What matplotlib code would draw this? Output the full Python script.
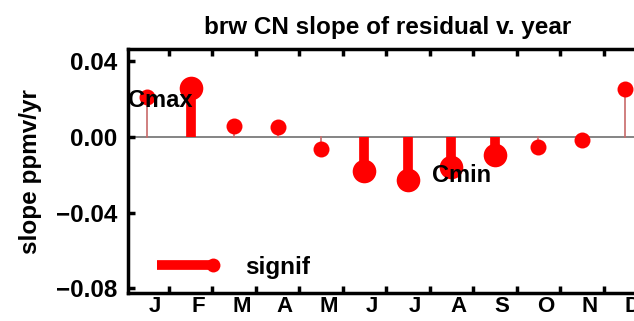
import numpy as np
import matplotlib.pyplot as plt

# monthly slope of residual v. year at brw (ppmv/yr)
months = np.arange(1, 13)
month_labels = ['J', 'F', 'M', 'A', 'M', 'J', 'J', 'A', 'S', 'O', 'N', 'D']
slope = [0.0213, 0.0260, 0.0058, 0.0051, -0.0065, -0.0178,
         -0.0228, -0.0157, -0.0095, -0.0051, -0.0016, 0.0253]
signif = [False, True, False, False, False, True,
          True, True, True, False, False, False]

plt.rcParams['font.family'] = ['Liberation Sans', 'DejaVu Sans']
plt.rcParams['font.weight'] = 'bold'
fs = 17.5

fig = plt.figure(figsize=(6.34, 3.21), dpi=100)
ax = fig.add_axes([128 / 634, 28 / 321, 519 / 634, 244 / 321])

red = '#ff0000'
ax.axhline(0, color='#707070', lw=1.2, zorder=1)
for m, s, sg in zip(months, slope, signif):
    if sg:
        ax.plot([m, m], [0, s], color=red, lw=7, solid_capstyle='butt', zorder=2)
        ax.plot(m, s, 'o', color=red, ms=17, mec='none', zorder=3)
    else:
        ax.plot([m, m], [0, s], color='#c86a6a', lw=1.2, zorder=2)
        ax.plot(m, s, 'o', color=red, ms=11.5, mec='none', zorder=3)

ax.text(0.57, 0.0196, 'Cmax', ha='left', va='center', fontsize=fs - 0.5,
        fontweight='bold', zorder=5)
ax.text(7.55, -0.0201, 'Cmin', ha='left', va='center', fontsize=fs - 0.5,
        fontweight='bold', zorder=5)

# legend entry for significant slopes
ax.plot([0.056, 0.164], [0.115, 0.115], transform=ax.transAxes, color=red,
        lw=7, solid_capstyle='butt', clip_on=False)
ax.plot([0.164], [0.115], 'o', transform=ax.transAxes, color=red, ms=10,
        mec='none', clip_on=False)
ax.text(0.225, 0.104, 'signif', transform=ax.transAxes, ha='left',
        va='center', fontsize=fs, fontweight='bold')

ax.set_xlim(0.56, 12.5)
ax.set_ylim(-0.0825, 0.0466)
ax.set_yticks([-0.08, -0.04, 0.0, 0.04])
ax.set_yticklabels(['\u22120.08', '\u22120.04', '0.00', '0.04'])
ax.set_xticks(np.arange(1.5, 12.5, 1))
ax.set_xticklabels([])
ax.set_xticks(months + 0.17, minor=True)
ax.set_xticklabels(month_labels, minor=True)
ax.tick_params(axis='x', which='major', direction='in', length=5, width=2.5,
               top=True, bottom=True)
ax.tick_params(axis='x', which='minor', length=0, pad=2, labelsize=16)
ax.tick_params(axis='y', direction='in', length=5, width=2.5, pad=8,
               labelsize=fs, right=False)
for side in ['left', 'top', 'bottom']:
    ax.spines[side].set_linewidth(2.5)
ax.spines['right'].set_visible(False)

ax.set_title('brw CN slope of residual v. year', fontsize=fs,
             fontweight='bold', pad=11)
fig.text(31 / 634, 1 - 172 / 321, 'slope ppmv/yr', rotation=90, ha='center',
         va='center', fontsize=fs, fontweight='bold')

fig.savefig('out.png', dpi=100)
